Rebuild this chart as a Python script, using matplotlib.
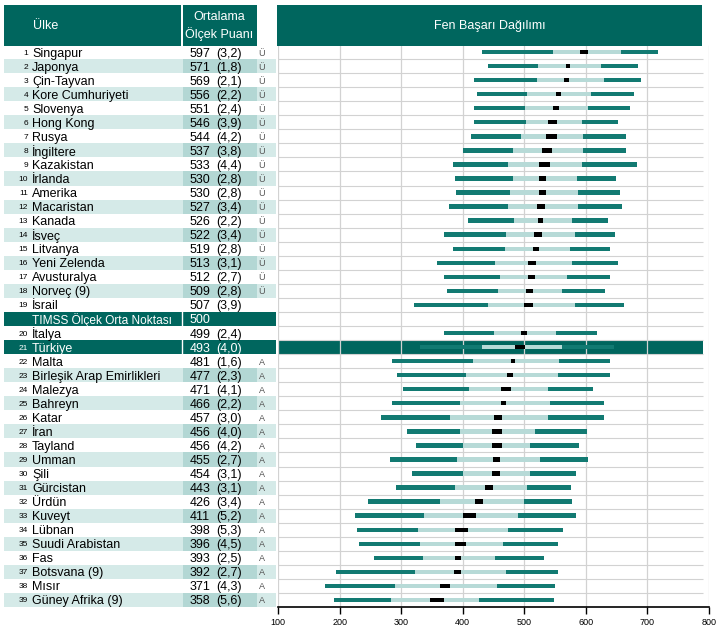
import numpy as np
import matplotlib
matplotlib.use('Agg')
import matplotlib.pyplot as plt
from matplotlib.patches import Rectangle

plt.rcParams['font.family'] = ['Liberation Sans', 'DejaVu Sans']

# ── data ──
countries = ["Singapur", "Japonya", "Çin-Tayvan", "Kore Cumhuriyeti", "Slovenya",
             "Hong Kong", "Rusya", "İngiltere", "Kazakistan", "İrlanda", "Amerika",
             "Macaristan", "Kanada", "İsveç", "Litvanya", "Yeni Zelenda", "Avusturalya",
             "Norveç (9)", "İsrail", "İtalya", "Türkiye", "Malta",
             "Birleşik Arap Emirlikleri", "Malezya", "Bahreyn", "Katar", "İran",
             "Tayland", "Umman", "Şili", "Gürcistan", "Ürdün", "Kuveyt", "Lübnan",
             "Suudi Arabistan", "Fas", "Botsvana (9)", "Mısır", "Güney Afrika (9)"]
means = [597, 571, 569, 556, 551, 546, 544, 537, 533, 530, 530, 527, 526, 522, 519,
         513, 512, 509, 507, 499, 493, 481, 477, 471, 466, 457, 456, 456, 455, 454,
         443, 426, 411, 398, 396, 393, 392, 371, 358]
se = [3.2, 1.8, 2.1, 2.2, 2.4, 3.9, 4.2, 3.8, 4.4, 2.8, 2.8, 3.4, 2.2, 3.4, 2.8,
      3.1, 2.7, 2.8, 3.9, 2.4, 4.0, 1.6, 2.3, 4.1, 2.2, 3.0, 4.0, 4.2, 2.7, 3.1,
      3.1, 3.4, 5.2, 5.3, 4.5, 2.5, 2.7, 4.3, 5.6]
p5 = [431, 441, 418, 423, 419, 418, 413, 400, 385, 387, 389, 377, 408, 369, 385,
      358, 369, 374, 321, 369, 331, 285, 293, 303, 285, 267, 309, 324, 282, 317,
      291, 246, 225, 228, 231, 256, 194, 176, 191]
p25 = [546, 523, 520, 505, 501, 502, 494, 481, 473, 481, 476, 473, 483, 471, 468,
       452, 460, 458, 441, 450, 431, 416, 406, 410, 395, 379, 395, 400, 390, 400,
       387, 363, 337, 327, 330, 335, 322, 290, 284]
p75 = [657, 624, 629, 609, 604, 593, 596, 596, 593, 585, 588, 588, 577, 582, 575,
       577, 570, 562, 583, 552, 562, 557, 555, 539, 542, 538, 518, 510, 525, 510,
       505, 499, 489, 473, 466, 452, 470, 455, 426]
p95 = [717, 685, 690, 678, 672, 652, 665, 665, 683, 649, 656, 659, 636, 648, 639,
       652, 639, 631, 662, 618, 646, 639, 639, 612, 630, 630, 602, 589, 604, 584,
       576, 578, 584, 563, 555, 532, 554, 550, 549]
marks = ["Ü"] * 18 + ["", "", ""] + ["A"] * 18
midpoint_label = "TIMSS Ölçek Orta Noktası"
midpoint_value = 500
highlight = "Türkiye"
xticks = [100, 200, 300, 400, 500, 600, 700, 800]

# colours
TEAL = "#00665e"
DARK = "#127a72"
LIGHT = "#b7dad7"
BAND = "#d5eae8"
BAND2 = "#b3d7d4"
GRID = "#d2d2d2"

W, H = 727, 635
fig = plt.figure(figsize=(W / 100, H / 100), dpi=100)

top_px, bot_px = 45, 607
n_rows = len(countries) + 1
b = (H - bot_px) / H
h = (bot_px - top_px) / H

# row positions, midpoint row goes after İsrail
mid_pos = countries.index("İsrail") + 1
pos = np.array([i if i < mid_pos else i + 1 for i in range(len(countries))])

ax_tab = fig.add_axes([0, b, 278 / W, h])
ax_tab.set_xlim(0, 278)
ax_tab.set_ylim(n_rows - 0.5, -0.5)
ax_tab.axis("off")

ax = fig.add_axes([278 / W, b, 431 / W, h])
ax.set_xlim(100, 800)
ax.set_ylim(n_rows - 0.5, -0.5)

ax_hdr = fig.add_axes([0, (H - 46) / H, 1, 41 / H])
ax_hdr.set_xlim(0, W)
ax_hdr.set_ylim(46, 5)
ax_hdr.axis("off")

# ── header ──
for x0, x1 in [(4, 181), (183, 257), (277, 702)]:
    ax_hdr.add_patch(Rectangle((x0, 5), x1 - x0, 41, color=TEAL, lw=0))
ax_hdr.text(33, 26, "Ülke", color="white", fontsize=9, va="center")
ax_hdr.text(219, 17, "Ortalama", color="white", fontsize=9, va="center", ha="center")
ax_hdr.text(219, 34, "Ölçek Puanı", color="white", fontsize=9, va="center", ha="center")
ax_hdr.text(490, 26, "Fen Başarı Dağılımı", color="white", fontsize=9,
            va="center", ha="center")

# ── table ──
def band(y, c_name, c_score):
    ax_tab.add_patch(Rectangle((4, y - 0.5), 272, 1, color=c_name, lw=0))
    ax_tab.add_patch(Rectangle((183, y - 0.5), 74, 1, color=c_score, lw=0))

for i, name in enumerate(countries):
    y = pos[i]
    dark_row = name == highlight
    if dark_row:
        band(y, TEAL, TEAL)
        ax_tab.plot([182, 182], [y - 0.5, y + 0.5], color="white", lw=1)
    elif y % 2 == 1:
        band(y, BAND, BAND2)
    tc = "white" if dark_row else "black"
    ax_tab.text(28, y, str(i + 1), fontsize=6, ha="right", va="center_baseline", color=tc)
    ax_tab.text(32, y, name, fontsize=9, va="center_baseline", color=tc)
    ax_tab.text(190, y, str(means[i]), fontsize=9, va="center_baseline", color=tc)
    ax_tab.text(216, y, "(" + f"{se[i]:.1f}".replace(".", ",") + ")", fontsize=9,
                va="center_baseline", color=tc)
    if marks[i]:
        ax_tab.text(262, y, marks[i], fontsize=6.5, ha="center", va="center_baseline",
                    color="#555555")

band(mid_pos, TEAL, TEAL)
ax_tab.plot([182, 182], [mid_pos - 0.5, mid_pos + 0.5], color="white", lw=1)
ax_tab.text(32, mid_pos, midpoint_label, fontsize=8.6, va="center_baseline", color="white")
ax_tab.text(190, mid_pos, str(midpoint_value), fontsize=9, va="center_baseline",
            color="white")

# ── distribution panel ──
hi_pos = pos[countries.index(highlight)]
ax.axhspan(hi_pos - 0.5, hi_pos + 0.5, xmin=0, xmax=(703 - 278) / 431,
           color=TEAL, lw=0, zorder=1)
ax.vlines(xticks, -0.5, n_rows - 0.5, color=GRID, lw=0.9, zorder=2)
ax.hlines(np.arange(n_rows - 1) + 0.5, 100, 790, color=GRID, lw=0.8, zorder=2)

p5a, p25a, p75a, p95a = map(np.array, (p5, p25, p75, p95))
mean_a, se_a = np.array(means), np.array(se)
bh = 0.31
ax.barh(pos, p25a - p5a, left=p5a, height=bh, color=DARK, lw=0, zorder=3)
ax.barh(pos, p95a - p75a, left=p75a, height=bh, color=DARK, lw=0, zorder=3)
ax.barh(pos, p75a - p25a, left=p25a, height=bh, color=LIGHT, lw=0, zorder=3)
ax.barh(pos, 4 * se_a, left=mean_a - 2 * se_a, height=bh, color="black", lw=0, zorder=4)

for s in ["top", "left", "right"]:
    ax.spines[s].set_visible(False)
ax.spines["bottom"].set_linewidth(1.2)
ax.set_yticks([])
ax.set_xticks(xticks)
ax.tick_params(axis="x", length=5, width=1, labelsize=6.5, pad=3)

fig.savefig("out.png", dpi=100, facecolor="white")
